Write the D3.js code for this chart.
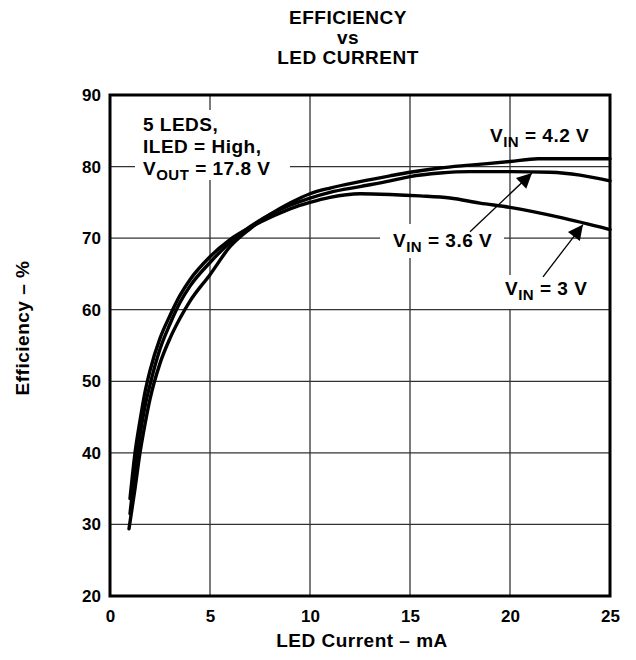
<!DOCTYPE html>
<html>
<head>
<meta charset="utf-8">
<script src="https://cdn.jsdelivr.net/npm/d3@7"></script>
<style>
  body { margin: 0; background: #fff; }
  text { font-family: "Liberation Sans", Arial, sans-serif; font-weight: bold; fill: #000; }
</style>
</head>
<body>
<script>
// Chart data
const xTicks = [0, 5, 10, 15, 20, 25];
const yTicks = [20, 30, 40, 50, 60, 70, 80, 90];

// LED current (mA), efficiency (%)
const vin3 = [[1, 33.6], [1.25, 40], [1.5, 44.5], [1.75, 48.5], [2, 51.5], [2.5, 56], [3, 59.2],
  [3.5, 62], [4, 64.2], [5, 67.4], [6, 69.8], [7, 71.5], [8, 72.9], [9, 74.1], [10, 75],
  [11, 75.7], [12.5, 76.2], [14, 76.1], [15.5, 75.9], [17, 75.6], [18.5, 74.9], [20, 74.3],
  [22.5, 72.9], [25, 71.2]];
const vin36 = [[1, 31.5], [1.25, 37.5], [1.5, 42.5], [1.75, 46.5], [2, 49.5], [2.5, 54.5], [3, 58],
  [3.5, 61], [4, 63.3], [5, 66.6], [6, 69.4], [7, 71.6], [8, 73.3], [9, 74.6], [10, 75.6],
  [11, 76.4], [12.5, 77.2], [14, 78], [15, 78.6], [16.5, 79.1], [18, 79.3], [20, 79.3],
  [22, 79.2], [23.5, 78.8], [25, 78]];
const vin42 = [[0.95, 29.4], [1.25, 35], [1.5, 40], [1.75, 44], [2, 47.5], [2.5, 52.5], [3, 56],
  [3.5, 58.8], [4, 61.2], [5, 64.9], [6, 68.8], [7, 71.3], [8, 73.3], [9, 74.9], [10, 76.2],
  [11, 77], [12.5, 77.9], [14, 78.7], [15, 79.2], [16.5, 79.8], [18, 80.2], [20, 80.7],
  [21.4, 81.1], [25, 81.1]];

const width = 636, height = 660;
const margin = { top: 95, right: 26, bottom: 64, left: 110 };
const big = '19px';

const svg = d3.select('body').append('svg')
  .attr('width', width)
  .attr('height', height);

const x = d3.scaleLinear().domain([0, 25]).range([margin.left, width - margin.right]);
const y = d3.scaleLinear().domain([20, 90]).range([height - margin.bottom, margin.top]);

// Title
const title = svg.append('text')
  .attr('text-anchor', 'middle')
  .style('font-size', big)
  .style('letter-spacing', '0.5px');
['EFFICIENCY', 'vs', 'LED CURRENT'].forEach((t, i) => {
  title.append('tspan').attr('x', 348).attr('y', 24 + i * 20).text(t);
});

// Grid
svg.append('g')
  .selectAll('line')
  .data(xTicks.slice(1, -1))
  .join('line')
  .attr('x1', d => x(d)).attr('x2', d => x(d))
  .attr('y1', y(20)).attr('y2', y(90))
  .attr('stroke', '#333').attr('stroke-width', 1.3);
svg.append('g')
  .selectAll('line')
  .data(yTicks.slice(1, -1))
  .join('line')
  .attr('x1', x(0)).attr('x2', x(25))
  .attr('y1', d => y(d)).attr('y2', d => y(d))
  .attr('stroke', '#333').attr('stroke-width', 1.3);

// Axes (labels only, frame drawn separately)
const xAxis = svg.append('g')
  .attr('transform', `translate(0, ${y(20)})`)
  .call(d3.axisBottom(x).tickValues(xTicks).tickSize(0).tickPadding(14));
const yAxis = svg.append('g')
  .attr('transform', `translate(${x(0)}, 0)`)
  .call(d3.axisLeft(y).tickValues(yTicks).tickSize(0).tickPadding(9));
[xAxis, yAxis].forEach(a => {
  a.select('.domain').remove();
  a.selectAll('text').style('font-size', '17px')
    .style('font-family', '"Liberation Sans", Arial, sans-serif')
    .style('font-weight', 'bold');
});

svg.append('text')
  .attr('x', 362).attr('y', 647)
  .attr('text-anchor', 'middle')
  .style('font-size', big)
  .style('letter-spacing', '0.5px')
  .text('LED Current – mA');

svg.append('text')
  .attr('transform', 'translate(29, 328) rotate(-90)')
  .attr('text-anchor', 'middle')
  .style('font-size', big)
  .style('letter-spacing', '0.5px')
  .text('Efficiency – %');

// White boxes behind labels that break the grid
const boxes = [
  [135, 110, 155, 70],
  [380, 224, 124, 34],
  [500, 275, 96, 34]
];
svg.append('g').selectAll('rect')
  .data(boxes)
  .join('rect')
  .attr('x', d => d[0]).attr('y', d => d[1])
  .attr('width', d => d[2]).attr('height', d => d[3])
  .attr('fill', '#fff');

// Curves
const line = d3.line()
  .x(d => x(d[0]))
  .y(d => y(d[1]))
  .curve(d3.curveMonotoneX);

svg.append('g')
  .selectAll('path')
  .data([vin3, vin36, vin42])
  .join('path')
  .attr('d', line)
  .attr('fill', 'none')
  .attr('stroke', '#000')
  .attr('stroke-width', 3.4)
  .attr('stroke-linecap', 'round')
  .attr('stroke-linejoin', 'round');

// Frame
svg.append('rect')
  .attr('x', x(0)).attr('y', y(90))
  .attr('width', x(25) - x(0)).attr('height', y(20) - y(90))
  .attr('fill', 'none')
  .attr('stroke', '#000')
  .attr('stroke-width', 3);

// Annotation
const note = svg.append('text').style('font-size', big).style('letter-spacing', '0.5px');
note.append('tspan').attr('x', 143).attr('y', 131).text('5 LEDS,');
note.append('tspan').attr('x', 143).attr('y', 153).text('ILED = High,');
note.append('tspan').attr('x', 143).attr('y', 175).text('V');
note.append('tspan').attr('dy', 5).style('font-size', '15px').text('OUT');
note.append('tspan').attr('dy', -5).text(' = 17.8 V');

// Series labels with subscript
function vinLabel(px, py, value) {
  const t = svg.append('text').attr('x', px).attr('y', py)
    .style('font-size', big).style('letter-spacing', '0.5px');
  t.append('tspan').text('V');
  t.append('tspan').attr('dy', 5).style('font-size', '15px').text('IN');
  t.append('tspan').attr('dy', -5).text(` = ${value} V`);
}
vinLabel(490, 142, '4.2');
vinLabel(393, 247, '3.6');
vinLabel(505, 295, '3');

// Arrows
svg.append('defs').append('marker')
  .attr('id', 'head')
  .attr('viewBox', '0 0 10 10')
  .attr('refX', 10).attr('refY', 5)
  .attr('markerWidth', 22).attr('markerHeight', 15)
  .attr('markerUnits', 'userSpaceOnUse')
  .attr('orient', 'auto')
  .append('path')
  .attr('d', 'M0,0 L10,5 L0,10 Z')
  .attr('fill', '#000');

const arrows = [
  [[18, 70.9], [21.1, 79.1]],
  [[21.65, 64.6], [23.65, 71.9]]
];
svg.append('g').selectAll('line')
  .data(arrows)
  .join('line')
  .attr('x1', d => x(d[0][0])).attr('y1', d => y(d[0][1]))
  .attr('x2', d => x(d[1][0])).attr('y2', d => y(d[1][1]))
  .attr('stroke', '#000')
  .attr('stroke-width', 1.3)
  .attr('marker-end', 'url(#head)');
</script>
</body>
</html>
